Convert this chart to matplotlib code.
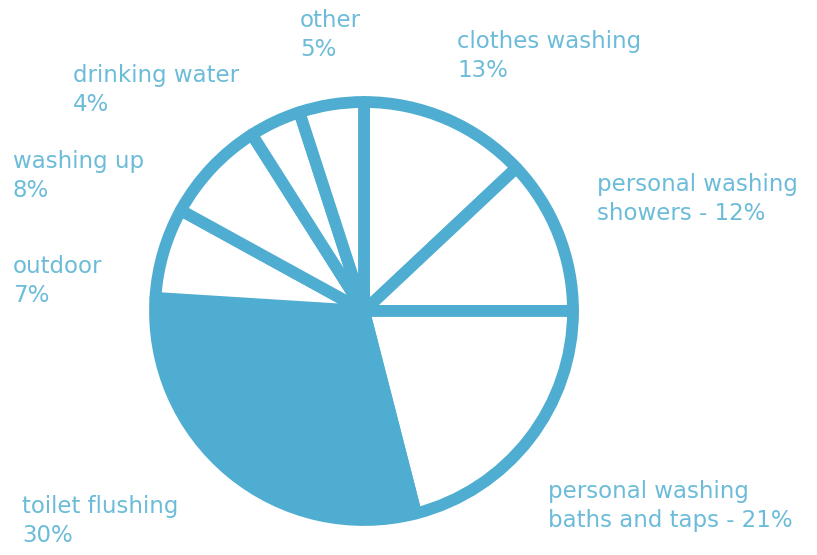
import matplotlib.pyplot as plt

# water use shares, clockwise from 12 o'clock
categories = ["clothes washing", "personal washing\nshowers", "personal washing\nbaths and taps",
              "toilet flushing", "outdoor", "washing up", "drinking water", "other"]
shares = [13, 12, 21, 30, 7, 8, 4, 5]
label_text = ["clothes washing\n13%", "personal washing\nshowers - 12%",
              "personal washing\nbaths and taps - 21%", "toilet flushing\n30%",
              "outdoor\n7%", "washing up\n8%", "drinking water\n4%", "other\n5%"]

blue = "#4eadd0"
txt_blue = "#6cbcd9"

fig = plt.figure(figsize=(8.17, 5.55), dpi=100)
ax = fig.add_axes([0, 0, 1, 1])

face = [blue if c == "toilet flushing" else "white" for c in categories]
ax.pie(shares, startangle=90, counterclock=False, colors=face,
       center=(364, 555 - 311), radius=209, frame=True,
       wedgeprops=dict(edgecolor=blue, linewidth=8.5, joinstyle="round"))
ax.set_xlim(0, 817)
ax.set_ylim(0, 555)
ax.set_aspect("equal")
ax.axis("off")

# label anchor (left, top) in pixels
label_pos = [(457, 30), (597, 173), (548, 480), (22, 495),
             (13, 255), (13, 150), (73, 64), (300, 9)]
for t, (x, y) in zip(label_text, label_pos):
    ax.text(x, 555 - y, t, ha="left", va="top", fontsize=16.5, color=txt_blue,
            family="DejaVu Sans", linespacing=1.35)

fig.savefig("out.png", dpi=100)
